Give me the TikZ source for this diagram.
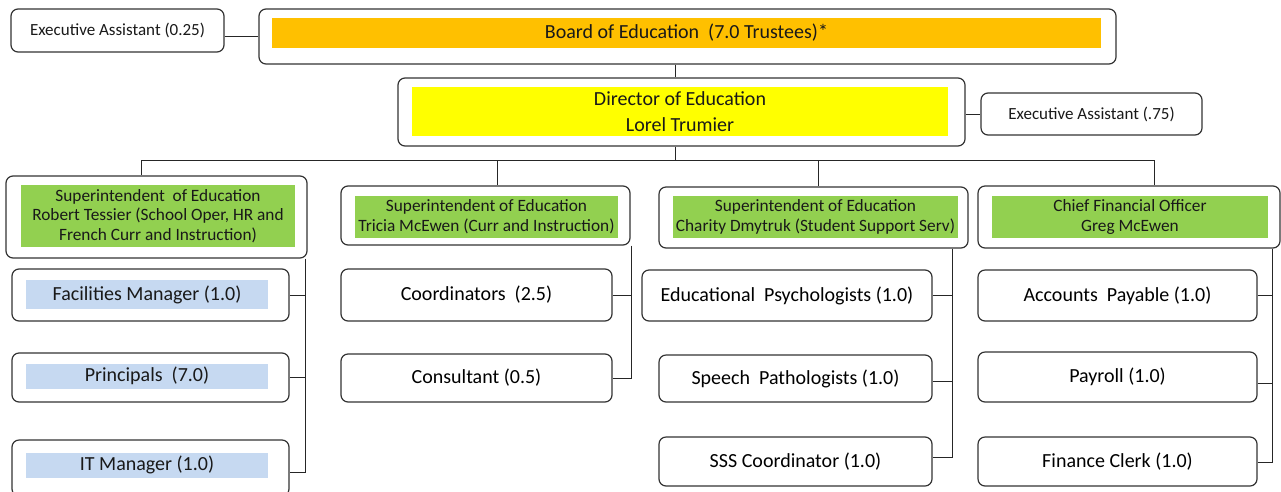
\documentclass[tikz,border=0pt]{standalone}
\usepackage{fontspec}
\setmainfont{Carlito}
\begin{document}
\begin{tikzpicture}[x=1pt,y=-1pt,
  box/.style={draw=black!80, line width=1.2pt, rounded corners=7pt, fill=white, inner sep=0pt},
  band/.style={inner sep=0pt, align=center, text=black!90},
  link/.style={draw=black!85, line width=1pt},
  big/.style={font=\fontsize{20}{24}\selectfont},
  mid/.style={font=\fontsize{17.3}{20}\selectfont},
  small/.style={font=\fontsize{17}{20}\selectfont}]
\useasboundingbox (0,0) rectangle (1281,491);
\definecolor{boardorange}{RGB}{255,192,0}
\definecolor{diryellow}{RGB}{255,255,0}
\definecolor{supgreen}{RGB}{146,208,80}
\definecolor{staffblue}{RGB}{198,217,241}

% top level
\node[box, minimum width=213, minimum height=43] (ea1) at (117.5,30.5) {};
\node[band, small] (ea1t) at (ea1) {Executive Assistant (0.25)};
\node[box, minimum width=857, minimum height=55] (board) at (687.5,36.5) {};
\node[band, big, fill=boardorange, minimum width=829, minimum height=30] (boardt) at (686.5,33) {Board of Education\ \ (7.0 Trustees)*};

\node[box, minimum width=567, minimum height=68] (dir) at (681.5,112) {};
\node[band, fill=diryellow, minimum width=536, minimum height=49, font=\fontsize{20}{26}\selectfont] (dirt) at (680,111.5) {Director of Education\\Lorel Trumier};
\node[box, minimum width=221, minimum height=42] (ea2) at (1091.5,114) {};
\node[band, small] (ea2t) at (ea2) {Executive Assistant (.75)};

% superintendents
\node[box, minimum width=301, minimum height=82] (sup1) at (156.5,217) {};
\node[band, mid, fill=supgreen, minimum width=274, minimum height=62, font=\fontsize{17.3}{19.5}\selectfont] (sup1t) at (158,216) {Superintendent\ \ of Education\\Robert Tessier (School Oper, HR and\\French Curr and Instruction)};
\node[box, minimum width=289, minimum height=59] (sup2) at (485.5,215.5) {};
\node[band, mid, fill=supgreen, minimum width=263, minimum height=42] (sup2t) at (486.5,217) {Superintendent of Education\\Tricia McEwen (Curr and Instruction)};
\node[box, minimum width=309, minimum height=61] (sup3) at (813.5,217.5) {};
\node[band, mid, fill=supgreen, minimum width=285, minimum height=42] (sup3t) at (815.5,217) {Superintendent of Education\\Charity Dmytruk (Student Support Serv)};
\node[box, minimum width=302, minimum height=62] (cfo) at (1129,217) {};
\node[band, mid, fill=supgreen, minimum width=276, minimum height=42] (cfot) at (1130,217) {Chief Financial Officer\\Greg McEwen};

% school operations staff
\node[box, minimum width=277, minimum height=52] (fm) at (150.5,295) {};
\node[band, big, fill=staffblue, minimum width=242, minimum height=29] (fmt) at (147,294.5) {Facilities Manager (1.0)};
\node[box, minimum width=277, minimum height=49] (prin) at (150.5,377.5) {};
\node[band, big, fill=staffblue, minimum width=242, minimum height=25] (print) at (147,376) {Principals\ \ (7.0)};
\node[box, minimum width=277, minimum height=56] (itm) at (150.5,468) {};
\node[band, big, fill=staffblue, minimum width=242, minimum height=25] (itmt) at (147,465) {IT Manager (1.0)};

% curriculum staff
\node[box, big, minimum width=271, minimum height=52] (coord) at (476.5,295) {Coordinators\ \ (2.5)};
\node[box, big, minimum width=271, minimum height=48] (cons) at (476.5,378) {Consultant (0.5)};

% student support staff
\node[box, big, minimum width=290, minimum height=51] (psych) at (787,295.5) {Educational\ \ Psychologists (1.0)};
\node[box, big, minimum width=273, minimum height=47] (speech) at (795.5,378.5) {Speech\ \ Pathologists (1.0)};
\node[box, big, minimum width=273, minimum height=49] (sss) at (795.5,461.5) {SSS Coordinator (1.0)};

% finance staff
\node[box, big, minimum width=279, minimum height=51] (ap) at (1117.5,295.5) {Accounts\ \ Payable (1.0)};
\node[box, big, minimum width=279, minimum height=50] (pay) at (1117.5,377) {Payroll (1.0)};
\node[box, big, minimum width=279, minimum height=49] (fc) at (1117.5,461.5) {Finance Clerk (1.0)};

% connector columns
\coordinate (trunk) at (675,160);
\coordinate (busL) at (141,160);
\coordinate (busB) at (497,160);
\coordinate (busC) at (818,160);
\coordinate (busR) at (1154,160);
\coordinate (v1) at (305,0);
\coordinate (v2) at (631,0);
\coordinate (v3) at (952,0);
\coordinate (v4) at (1272,0);

\draw[link] (ea1.east |- board.center) -- (board.west);
\draw[link] (board.south -| trunk) -- (dir.north -| trunk);
\draw[link] (dir.east |- ea2.west) -- (ea2.west);
\draw[link] (dir.south -| trunk) -- (trunk);
\draw[link] (busL) -- (busR);
\draw[link] (busL) -- (sup1.north -| busL);
\draw[link] (busB) -- (sup2.north -| busB);
\draw[link] (busC) -- (sup3.north -| busC);
\draw[link] (busR) -- (cfo.north -| busR);

\draw[link] (sup1.south -| v1) |- ([yshift=-4pt]itm.east);
\draw[link] (fm.east) -- (fm.east -| v1);
\draw[link] (prin.east) -- (prin.east -| v1);

\draw[link] (sup2.south -| v2) |- (cons.east);
\draw[link] (coord.east) -- (coord.east -| v2);

\draw[link] (sup3.south -| v3) |- ([yshift=4pt]sss.east);
\draw[link] (psych.east) -- (psych.east -| v3);
\draw[link] ([yshift=-3pt]speech.east) -- ([yshift=-3pt]speech.east -| v3);

\draw[link] (cfo.south -| v4) |- ([yshift=-1pt]fc.east);
\draw[link] (ap.east) -- (ap.east -| v4);
\draw[link] ([yshift=-6pt]pay.east) -- ([yshift=-6pt]pay.east -| v4);
\end{tikzpicture}
\end{document}
